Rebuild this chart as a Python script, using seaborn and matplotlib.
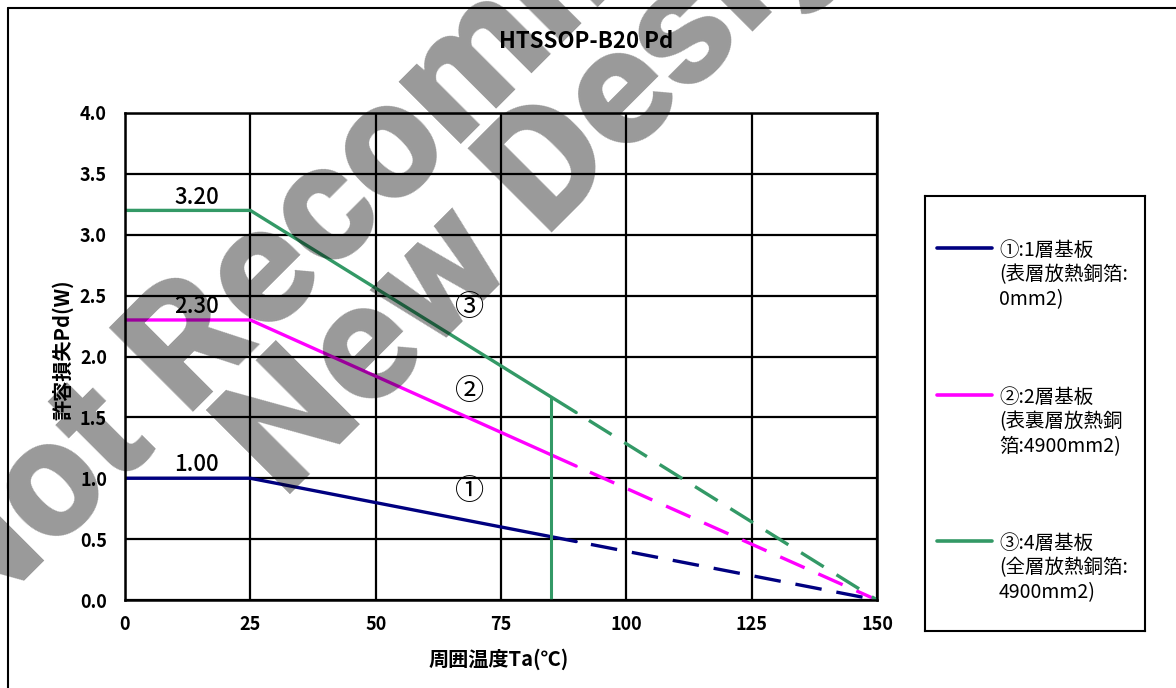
import numpy as np
import pandas as pd
import matplotlib
matplotlib.use("Agg")
import matplotlib.pyplot as plt
import seaborn as sns
from matplotlib.lines import Line2D

# ---------------- data ----------------
temps_solid = [0, 25, 90]
temps_dashed = [90, 150]
board1_solid = [1.00, 1.00, 0.48]
board1_dashed = [0.48, 0.00]
board2_solid = [2.30, 2.30, 1.10]
board2_dashed = [1.10, 0.00]
board3_solid = [3.20, 3.20, 1.54]
board3_dashed = [1.54, 0.00]
board_names = ["①", "②", "③"]
board_colors = ["#000080", "#FF00FF", "#339966"]
legend_labels = [
    "①:1層基板\n(表層放熱銅箔:\n0mm2)",
    "②:2層基板\n(表裏層放熱銅\n箔:4900mm2)",
    "③:4層基板\n(全層放熱銅箔:\n4900mm2)",
]
peak_labels = ["1.00", "2.30", "3.20"]
peak_values = [1.00, 2.30, 3.20]
limit_temp = [85, 85]
limit_pd = [0.00, 1.66]
x_ticks = [0, 25, 50, 75, 100, 125, 150]
y_ticks = [0.0, 0.5, 1.0, 1.5, 2.0, 2.5, 3.0, 3.5, 4.0]
title = "HTSSOP-B20 Pd"
x_label = "周囲温度Ta(℃)"
y_label = "許容損失Pd(W)"
watermark_lines = ["Not Recommended for", "New Designs"]

# ---------------- build frame ----------------
rows = []
solids = [board1_solid, board2_solid, board3_solid]
dashed_vals = [board1_dashed, board2_dashed, board3_dashed]
for name, s, d in zip(board_names, solids, dashed_vals):
    for t, v in zip(temps_solid, s):
        rows.append({"Ta": t, "Pd": v, "board": name, "seg": "solid"})
    for t, v in zip(temps_dashed, d):
        rows.append({"Ta": t, "Pd": v, "board": name, "seg": "dashed"})
df = pd.DataFrame(rows)

sns.set_theme(style="white")
plt.rcParams["font.family"] = ["Noto Sans CJK JP", "DejaVu Sans"]

W, H = 1176, 688
fig = plt.figure(figsize=(W / 100, H / 100), dpi=100)
fig.patch.set_facecolor("white")

def fx(px):
    return px / W

def fy(py):
    return 1 - py / H

ax_l, ax_r, ax_t, ax_b = 125, 877, 113, 600
ax = fig.add_axes([fx(ax_l), fy(ax_b), (ax_r - ax_l) / W, (ax_b - ax_t) / H])

palette = dict(zip(board_names, board_colors))
sns.lineplot(data=df, x="Ta", y="Pd", hue="board", style="seg",
             palette=palette, dashes={"solid": "", "dashed": (8, 4.5)},
             estimator=None, sort=False, linewidth=2.4, legend=False, ax=ax)
# dashed parts start with a gap, as in the reference
for ln in ax.lines:
    ls = ln.get_linestyle()
    if ls not in ("-", "solid"):
        ln.set_linestyle((8, (8, 4.5)))
sns.lineplot(x=limit_temp, y=limit_pd, color=board_colors[2], linewidth=2.2,
             estimator=None, sort=False, ax=ax)

ax.set_xlim(0, 150)
ax.set_ylim(0, 4.0)
ax.set_xticks(x_ticks)
ax.set_yticks(y_ticks)
ax.set_xticklabels([str(v) for v in x_ticks], fontsize=13, fontweight="bold")
ax.set_yticklabels([f"{v:.1f}" for v in y_ticks], fontsize=13, fontweight="bold")
ax.tick_params(axis="x", length=0, pad=11, colors="black")
ax.tick_params(axis="y", length=0, pad=13, colors="black")
ax.grid(True, color="black", linewidth=1.6)
ax.set_axisbelow(True)
for sp in ax.spines.values():
    sp.set_color("black")
    sp.set_linewidth(1.8)

ax.set_xlabel(x_label, fontsize=14.5, fontweight="bold", color="black")
ax.set_ylabel(y_label, fontsize=14.5, fontweight="bold", color="black")
ax.xaxis.set_label_coords(0.497, -0.100)
ax.yaxis.set_label_coords(-0.069, 0.513)

# peak value labels
for lab, v in zip(peak_labels, peak_values):
    ax.text(14.3, v + 0.11, lab, fontsize=16, fontweight="medium",
            ha="center", va="center", color="black")
# circled numbers
circ_pos = [(68.8, 0.89), (68.8, 1.71), (68.8, 2.40)]
for name, (cx, cy) in zip(board_names, circ_pos):
    ax.text(cx, cy, name, fontsize=21, ha="center", va="center", color="black")

# title
fig.text(fx(586), fy(42), title, fontsize=16, fontweight="bold",
         ha="center", va="center", color="black")

# outer frame (extends beyond canvas)
fig.add_artist(Line2D([fx(8), fx(8)], [0, fy(8)], transform=fig.transFigure,
                      color="black", linewidth=1.5))
fig.add_artist(Line2D([fx(8), 1], [fy(8), fy(8)], transform=fig.transFigure,
                      color="black", linewidth=1.5))

# legend box
lx0, lx1, ly0, ly1 = 925, 1145, 196, 631
lax = fig.add_axes([fx(lx0), fy(ly1), (lx1 - lx0) / W, (ly1 - ly0) / H])
lax.set_xlim(lx0, lx1)
lax.set_ylim(ly1, ly0)
lax.set_xticks([])
lax.set_yticks([])
lax.grid(False)
for sp in lax.spines.values():
    sp.set_color("black")
    sp.set_linewidth(1.5)
entry_y = [248, 395, 541]
for lab, col, yy in zip(legend_labels, board_colors, entry_y):
    lax.plot([937, 992], [yy, yy], color=col, linewidth=2.6)
    for i, line in enumerate(lab.split("\n")):
        lax.text(999, yy + 2 + i * 25, line, fontsize=14, ha="left",
                 va="center", color="black")

# watermark (semi-transparent, drawn over the chart)
wm_kw = dict(rotation=45, rotation_mode="anchor", ha="left", va="baseline",
             fontsize=120, fontweight="black", family="Roboto",
             color="black", alpha=0.4, zorder=10)
fig.text(fx(-31), fy(637), watermark_lines[0], **wm_kw)
fig.text(fx(284), fy(500), watermark_lines[1], **wm_kw)

fig.savefig("out.png", dpi=100, facecolor="white")
